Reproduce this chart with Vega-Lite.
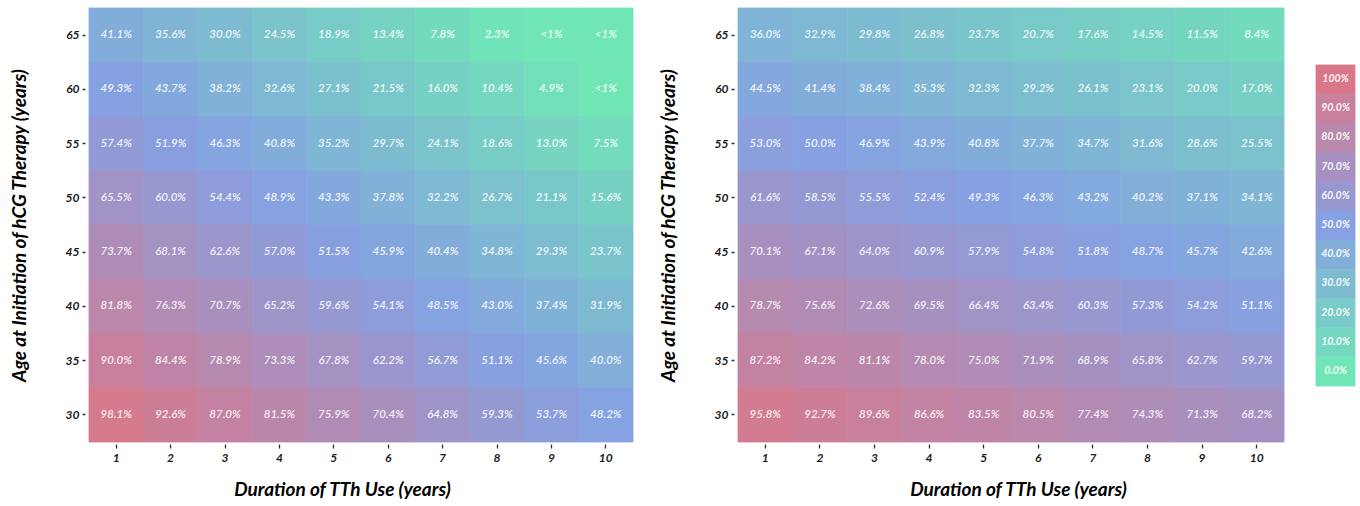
{
  "$schema": "https://vega.github.io/schema/vega-lite/v6.json",
  "background": "white",
  "padding": {"left": 10, "top": 7, "right": 0, "bottom": 0},
  "config": {
    "view": {"stroke": null},
    "font": "Lato",
    "axis": {
      "domain": false,
      "grid": false,
      "labelFont": "Lato",
      "labelFontStyle": "italic",
      "labelFontWeight": "bold",
      "labelFontSize": 12,
      "labelColor": "#1a1a1a",
      "tickColor": "#333333",
      "titleFont": "Lato",
      "titleFontStyle": "italic",
      "titleFontWeight": "bold",
      "titleFontSize": 19,
      "titleColor": "#000000"
    }
  },
  "datasets": {
    "left": [
      {"duration":1,"age":65,"percent":41.1,"label":"41.1%"},{"duration":2,"age":65,"percent":35.6,"label":"35.6%"},{"duration":3,"age":65,"percent":30.0,"label":"30.0%"},{"duration":4,"age":65,"percent":24.5,"label":"24.5%"},{"duration":5,"age":65,"percent":18.9,"label":"18.9%"},{"duration":6,"age":65,"percent":13.4,"label":"13.4%"},{"duration":7,"age":65,"percent":7.8,"label":"7.8%"},{"duration":8,"age":65,"percent":2.3,"label":"2.3%"},{"duration":9,"age":65,"percent":0,"label":"<1%"},{"duration":10,"age":65,"percent":0,"label":"<1%"},
      {"duration":1,"age":60,"percent":49.3,"label":"49.3%"},{"duration":2,"age":60,"percent":43.7,"label":"43.7%"},{"duration":3,"age":60,"percent":38.2,"label":"38.2%"},{"duration":4,"age":60,"percent":32.6,"label":"32.6%"},{"duration":5,"age":60,"percent":27.1,"label":"27.1%"},{"duration":6,"age":60,"percent":21.5,"label":"21.5%"},{"duration":7,"age":60,"percent":16.0,"label":"16.0%"},{"duration":8,"age":60,"percent":10.4,"label":"10.4%"},{"duration":9,"age":60,"percent":4.9,"label":"4.9%"},{"duration":10,"age":60,"percent":0,"label":"<1%"},
      {"duration":1,"age":55,"percent":57.4,"label":"57.4%"},{"duration":2,"age":55,"percent":51.9,"label":"51.9%"},{"duration":3,"age":55,"percent":46.3,"label":"46.3%"},{"duration":4,"age":55,"percent":40.8,"label":"40.8%"},{"duration":5,"age":55,"percent":35.2,"label":"35.2%"},{"duration":6,"age":55,"percent":29.7,"label":"29.7%"},{"duration":7,"age":55,"percent":24.1,"label":"24.1%"},{"duration":8,"age":55,"percent":18.6,"label":"18.6%"},{"duration":9,"age":55,"percent":13.0,"label":"13.0%"},{"duration":10,"age":55,"percent":7.5,"label":"7.5%"},
      {"duration":1,"age":50,"percent":65.5,"label":"65.5%"},{"duration":2,"age":50,"percent":60.0,"label":"60.0%"},{"duration":3,"age":50,"percent":54.4,"label":"54.4%"},{"duration":4,"age":50,"percent":48.9,"label":"48.9%"},{"duration":5,"age":50,"percent":43.3,"label":"43.3%"},{"duration":6,"age":50,"percent":37.8,"label":"37.8%"},{"duration":7,"age":50,"percent":32.2,"label":"32.2%"},{"duration":8,"age":50,"percent":26.7,"label":"26.7%"},{"duration":9,"age":50,"percent":21.1,"label":"21.1%"},{"duration":10,"age":50,"percent":15.6,"label":"15.6%"},
      {"duration":1,"age":45,"percent":73.7,"label":"73.7%"},{"duration":2,"age":45,"percent":68.1,"label":"68.1%"},{"duration":3,"age":45,"percent":62.6,"label":"62.6%"},{"duration":4,"age":45,"percent":57.0,"label":"57.0%"},{"duration":5,"age":45,"percent":51.5,"label":"51.5%"},{"duration":6,"age":45,"percent":45.9,"label":"45.9%"},{"duration":7,"age":45,"percent":40.4,"label":"40.4%"},{"duration":8,"age":45,"percent":34.8,"label":"34.8%"},{"duration":9,"age":45,"percent":29.3,"label":"29.3%"},{"duration":10,"age":45,"percent":23.7,"label":"23.7%"},
      {"duration":1,"age":40,"percent":81.8,"label":"81.8%"},{"duration":2,"age":40,"percent":76.3,"label":"76.3%"},{"duration":3,"age":40,"percent":70.7,"label":"70.7%"},{"duration":4,"age":40,"percent":65.2,"label":"65.2%"},{"duration":5,"age":40,"percent":59.6,"label":"59.6%"},{"duration":6,"age":40,"percent":54.1,"label":"54.1%"},{"duration":7,"age":40,"percent":48.5,"label":"48.5%"},{"duration":8,"age":40,"percent":43.0,"label":"43.0%"},{"duration":9,"age":40,"percent":37.4,"label":"37.4%"},{"duration":10,"age":40,"percent":31.9,"label":"31.9%"},
      {"duration":1,"age":35,"percent":90.0,"label":"90.0%"},{"duration":2,"age":35,"percent":84.4,"label":"84.4%"},{"duration":3,"age":35,"percent":78.9,"label":"78.9%"},{"duration":4,"age":35,"percent":73.3,"label":"73.3%"},{"duration":5,"age":35,"percent":67.8,"label":"67.8%"},{"duration":6,"age":35,"percent":62.2,"label":"62.2%"},{"duration":7,"age":35,"percent":56.7,"label":"56.7%"},{"duration":8,"age":35,"percent":51.1,"label":"51.1%"},{"duration":9,"age":35,"percent":45.6,"label":"45.6%"},{"duration":10,"age":35,"percent":40.0,"label":"40.0%"},
      {"duration":1,"age":30,"percent":98.1,"label":"98.1%"},{"duration":2,"age":30,"percent":92.6,"label":"92.6%"},{"duration":3,"age":30,"percent":87.0,"label":"87.0%"},{"duration":4,"age":30,"percent":81.5,"label":"81.5%"},{"duration":5,"age":30,"percent":75.9,"label":"75.9%"},{"duration":6,"age":30,"percent":70.4,"label":"70.4%"},{"duration":7,"age":30,"percent":64.8,"label":"64.8%"},{"duration":8,"age":30,"percent":59.3,"label":"59.3%"},{"duration":9,"age":30,"percent":53.7,"label":"53.7%"},{"duration":10,"age":30,"percent":48.2,"label":"48.2%"}
    ],
    "right": [
      {"duration":1,"age":65,"percent":36.0,"label":"36.0%"},{"duration":2,"age":65,"percent":32.9,"label":"32.9%"},{"duration":3,"age":65,"percent":29.8,"label":"29.8%"},{"duration":4,"age":65,"percent":26.8,"label":"26.8%"},{"duration":5,"age":65,"percent":23.7,"label":"23.7%"},{"duration":6,"age":65,"percent":20.7,"label":"20.7%"},{"duration":7,"age":65,"percent":17.6,"label":"17.6%"},{"duration":8,"age":65,"percent":14.5,"label":"14.5%"},{"duration":9,"age":65,"percent":11.5,"label":"11.5%"},{"duration":10,"age":65,"percent":8.4,"label":"8.4%"},
      {"duration":1,"age":60,"percent":44.5,"label":"44.5%"},{"duration":2,"age":60,"percent":41.4,"label":"41.4%"},{"duration":3,"age":60,"percent":38.4,"label":"38.4%"},{"duration":4,"age":60,"percent":35.3,"label":"35.3%"},{"duration":5,"age":60,"percent":32.3,"label":"32.3%"},{"duration":6,"age":60,"percent":29.2,"label":"29.2%"},{"duration":7,"age":60,"percent":26.1,"label":"26.1%"},{"duration":8,"age":60,"percent":23.1,"label":"23.1%"},{"duration":9,"age":60,"percent":20.0,"label":"20.0%"},{"duration":10,"age":60,"percent":17.0,"label":"17.0%"},
      {"duration":1,"age":55,"percent":53.0,"label":"53.0%"},{"duration":2,"age":55,"percent":50.0,"label":"50.0%"},{"duration":3,"age":55,"percent":46.9,"label":"46.9%"},{"duration":4,"age":55,"percent":43.9,"label":"43.9%"},{"duration":5,"age":55,"percent":40.8,"label":"40.8%"},{"duration":6,"age":55,"percent":37.7,"label":"37.7%"},{"duration":7,"age":55,"percent":34.7,"label":"34.7%"},{"duration":8,"age":55,"percent":31.6,"label":"31.6%"},{"duration":9,"age":55,"percent":28.6,"label":"28.6%"},{"duration":10,"age":55,"percent":25.5,"label":"25.5%"},
      {"duration":1,"age":50,"percent":61.6,"label":"61.6%"},{"duration":2,"age":50,"percent":58.5,"label":"58.5%"},{"duration":3,"age":50,"percent":55.5,"label":"55.5%"},{"duration":4,"age":50,"percent":52.4,"label":"52.4%"},{"duration":5,"age":50,"percent":49.3,"label":"49.3%"},{"duration":6,"age":50,"percent":46.3,"label":"46.3%"},{"duration":7,"age":50,"percent":43.2,"label":"43.2%"},{"duration":8,"age":50,"percent":40.2,"label":"40.2%"},{"duration":9,"age":50,"percent":37.1,"label":"37.1%"},{"duration":10,"age":50,"percent":34.1,"label":"34.1%"},
      {"duration":1,"age":45,"percent":70.1,"label":"70.1%"},{"duration":2,"age":45,"percent":67.1,"label":"67.1%"},{"duration":3,"age":45,"percent":64.0,"label":"64.0%"},{"duration":4,"age":45,"percent":60.9,"label":"60.9%"},{"duration":5,"age":45,"percent":57.9,"label":"57.9%"},{"duration":6,"age":45,"percent":54.8,"label":"54.8%"},{"duration":7,"age":45,"percent":51.8,"label":"51.8%"},{"duration":8,"age":45,"percent":48.7,"label":"48.7%"},{"duration":9,"age":45,"percent":45.7,"label":"45.7%"},{"duration":10,"age":45,"percent":42.6,"label":"42.6%"},
      {"duration":1,"age":40,"percent":78.7,"label":"78.7%"},{"duration":2,"age":40,"percent":75.6,"label":"75.6%"},{"duration":3,"age":40,"percent":72.6,"label":"72.6%"},{"duration":4,"age":40,"percent":69.5,"label":"69.5%"},{"duration":5,"age":40,"percent":66.4,"label":"66.4%"},{"duration":6,"age":40,"percent":63.4,"label":"63.4%"},{"duration":7,"age":40,"percent":60.3,"label":"60.3%"},{"duration":8,"age":40,"percent":57.3,"label":"57.3%"},{"duration":9,"age":40,"percent":54.2,"label":"54.2%"},{"duration":10,"age":40,"percent":51.1,"label":"51.1%"},
      {"duration":1,"age":35,"percent":87.2,"label":"87.2%"},{"duration":2,"age":35,"percent":84.2,"label":"84.2%"},{"duration":3,"age":35,"percent":81.1,"label":"81.1%"},{"duration":4,"age":35,"percent":78.0,"label":"78.0%"},{"duration":5,"age":35,"percent":75.0,"label":"75.0%"},{"duration":6,"age":35,"percent":71.9,"label":"71.9%"},{"duration":7,"age":35,"percent":68.9,"label":"68.9%"},{"duration":8,"age":35,"percent":65.8,"label":"65.8%"},{"duration":9,"age":35,"percent":62.7,"label":"62.7%"},{"duration":10,"age":35,"percent":59.7,"label":"59.7%"},
      {"duration":1,"age":30,"percent":95.8,"label":"95.8%"},{"duration":2,"age":30,"percent":92.7,"label":"92.7%"},{"duration":3,"age":30,"percent":89.6,"label":"89.6%"},{"duration":4,"age":30,"percent":86.6,"label":"86.6%"},{"duration":5,"age":30,"percent":83.5,"label":"83.5%"},{"duration":6,"age":30,"percent":80.5,"label":"80.5%"},{"duration":7,"age":30,"percent":77.4,"label":"77.4%"},{"duration":8,"age":30,"percent":74.3,"label":"74.3%"},{"duration":9,"age":30,"percent":71.3,"label":"71.3%"},{"duration":10,"age":30,"percent":68.2,"label":"68.2%"}
    ],
    "legend": [
      {"percent":100,"label":"100%"},{"percent":90,"label":"90.0%"},{"percent":80,"label":"80.0%"},{"percent":70,"label":"70.0%"},{"percent":60,"label":"60.0%"},{"percent":50,"label":"50.0%"},{"percent":40,"label":"40.0%"},{"percent":30,"label":"30.0%"},{"percent":20,"label":"20.0%"},{"percent":10,"label":"10.0%"},{"percent":0,"label":"0.0%"}
    ]
  },
  "hconcat": [
    {
      "spacing": 25,
      "hconcat": [
        {
          "width": 544,
          "height": 434,
          "data": {"name": "left"},
          "encoding": {
            "x": {"field": "duration", "type": "ordinal", "scale": {"paddingInner": 0, "paddingOuter": 0},
                  "axis": {"title": "Duration of TTh Use (years)", "labelAngle": 0, "offset": 2, "tickSize": 4, "tickWidth": 1.3, "labelPadding": 4, "titlePadding": 17, "titleX": 253}},
            "y": {"field": "age", "type": "ordinal", "sort": "descending", "scale": {"paddingInner": 0, "paddingOuter": 0},
                  "axis": {"title": "Age at Initiation of hCG Therapy (years)", "offset": 4, "tickSize": 3, "tickWidth": 1.5, "labelPadding": 3, "titlePadding": 36}}
          },
          "layer": [
            {"mark": {"type": "rect", "strokeWidth": 0.8},
             "encoding": {
               "color": {"field": "percent", "type": "quantitative", "scale": {"domain": [0, 50, 100], "range": ["#70e6b6", "#86a0e2", "#d9788a"], "interpolate": "rgb"}, "legend": null},
               "stroke": {"field": "percent", "type": "quantitative", "scale": {"domain": [0, 50, 100], "range": ["#70e6b6", "#86a0e2", "#d9788a"], "interpolate": "rgb"}, "legend": null}}},
            {"mark": {"type": "text", "color": "white", "opacity": 0.88, "fontSize": 11.5, "fontStyle": "italic", "fontWeight": 600, "font": "Lato"},
             "encoding": {"text": {"field": "label", "type": "nominal"}}}
          ]
        },
        {
          "width": 546,
          "height": 434,
          "data": {"name": "right"},
          "encoding": {
            "x": {"field": "duration", "type": "ordinal", "scale": {"paddingInner": 0, "paddingOuter": 0},
                  "axis": {"title": "Duration of TTh Use (years)", "labelAngle": 0, "offset": 2, "tickSize": 4, "tickWidth": 1.3, "labelPadding": 4, "titlePadding": 17, "titleX": 280}},
            "y": {"field": "age", "type": "ordinal", "sort": "descending", "scale": {"paddingInner": 0, "paddingOuter": 0},
                  "axis": {"title": "Age at Initiation of hCG Therapy (years)", "offset": 4, "tickSize": 3, "tickWidth": 1.5, "labelPadding": 3, "titlePadding": 36}}
          },
          "layer": [
            {"mark": {"type": "rect", "strokeWidth": 0.8},
             "encoding": {
               "color": {"field": "percent", "type": "quantitative", "scale": {"domain": [0, 50, 100], "range": ["#70e6b6", "#86a0e2", "#d9788a"], "interpolate": "rgb"}, "legend": null},
               "stroke": {"field": "percent", "type": "quantitative", "scale": {"domain": [0, 50, 100], "range": ["#70e6b6", "#86a0e2", "#d9788a"], "interpolate": "rgb"}, "legend": null}}},
            {"mark": {"type": "text", "color": "white", "opacity": 0.88, "fontSize": 11.5, "fontStyle": "italic", "fontWeight": 600, "font": "Lato"},
             "encoding": {"text": {"field": "label", "type": "nominal"}}}
          ]
        }
      ]
    },
    {
      "width": 39,
      "height": 434,
      "data": {"name": "legend"},
      "layer": [
        {"mark": {"type": "rect", "strokeWidth": 0.8},
         "encoding": {
           "y": {"field": "percent", "type": "quantitative", "bin": {"step": 10, "extent": [-5, 105], "nice": false}, "scale": {"domain": [-24.36, 124.36], "nice": false, "zero": false}, "axis": null},
           "color": {"field": "percent", "type": "quantitative", "scale": {"domain": [0, 50, 100], "range": ["#70e6b6", "#86a0e2", "#d9788a"], "interpolate": "rgb"}, "legend": null},
           "stroke": {"field": "percent", "type": "quantitative", "scale": {"domain": [0, 50, 100], "range": ["#70e6b6", "#86a0e2", "#d9788a"], "interpolate": "rgb"}, "legend": null}}},
        {"mark": {"type": "text", "color": "white", "opacity": 0.92, "fontSize": 10.5, "fontStyle": "italic", "fontWeight": "bold", "font": "Lato"},
         "encoding": {
           "y": {"field": "percent", "type": "quantitative", "scale": {"domain": [-24.36, 124.36], "nice": false, "zero": false}, "axis": null},
           "text": {"field": "label", "type": "nominal"}}}
      ]
    }
  ],
  "spacing": 30
}
